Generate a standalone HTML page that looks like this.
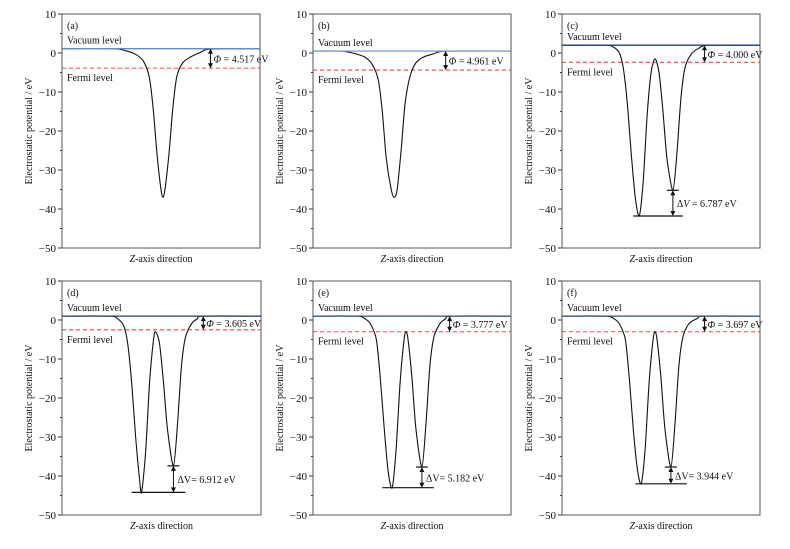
<!DOCTYPE html>
<html><head><meta charset="utf-8"><style>
body{margin:0;background:#fff}
svg{display:block;font-family:"Liberation Serif",serif}
</style></head><body>
<svg id="chart" width="790" height="549" viewBox="0 0 790 549"></svg>
<script>
// ---- data (value arrays per panel) ----
const panelLabels = ["(a)","(b)","(c)","(d)","(e)","(f)"];
const yTicks = [10,0,-10,-20,-30,-40,-50];
const vacuumLevels = [1.1,0.5,2.0,1.0,1.0,1.0];
const fermiLevels = [-3.9,-4.4,-2.4,-2.5,-3.0,-3.0];
const phiTexts = ["4.517","4.961","4.000","3.605","3.777","3.697"];
const phiPos = [0.75,0.67,0.72,0.71,0.69,0.72];
const dvTexts = [null,null,"6.787","6.912","5.182","3.944"];
const dvLow = [null,null,-41.8,-44.2,-43.0,-42.0];
const dvHigh = [null,null,-35.2,-37.4,-37.7,-37.7];
const dvArrowPos = [null,null,0.56,0.56,0.55,0.55];
const dvLineStart = [null,null,0.36,0.35,0.35,0.37];
const dvLineEnd = [null,null,0.61,0.62,0.61,0.63];
// curve samples: z fraction and potential (eV)
const zA = [0,0.26,0.32,0.37,0.41,0.44,0.46,0.48,0.50,0.51,0.52,0.54,0.56,0.58,0.61,0.65,0.70,0.75,1];
const vA = [1.1,1.1,0.6,-0.3,-2,-6,-14,-26,-35,-37,-35,-26,-14,-6,-2.5,-1,0.2,1.0,1.1];
const zB = [0,0.14,0.20,0.26,0.30,0.33,0.35,0.37,0.395,0.41,0.425,0.445,0.465,0.49,0.52,0.56,0.61,0.67,1];
const vB = [0.5,0.5,0,-1,-3,-7,-15,-27,-35,-37,-35,-25,-13,-6,-2.5,-1,-0.2,0.5,0.5];
const zC = [0,0.22,0.26,0.29,0.31,0.33,0.35,0.37,0.39,0.41,0.43,0.45,0.47,0.49,0.51,0.53,0.56,0.58,0.60,0.62,0.65,0.69,0.74,1];
const vC = [2,2,1.5,0,-4,-13,-26,-37,-41.8,-33,-16,-5,-1.5,-5,-15,-27,-35.2,-26,-12,-4,-0.5,1.2,2,2];
const zD = [0,0.24,0.28,0.31,0.33,0.35,0.37,0.39,0.40,0.42,0.44,0.46,0.47,0.49,0.51,0.53,0.56,0.58,0.60,0.62,0.65,0.68,0.71,1];
const vD = [1,1,0.3,-1.5,-6,-16,-30,-41,-44.2,-34,-16,-5,-3,-6,-16,-28,-37.4,-27,-12,-4.5,-1,0.3,1,1];
const zE = [0,0.22,0.26,0.29,0.32,0.34,0.36,0.38,0.40,0.42,0.44,0.46,0.47,0.48,0.50,0.52,0.55,0.57,0.59,0.61,0.64,0.67,0.70,1];
const vE = [1,1,0.4,-1,-5,-15,-28,-39,-43,-33,-16,-5,-3,-5,-15,-28,-37.7,-27,-12,-4.5,-1,0.3,1,1];
const zF = [0,0.22,0.26,0.29,0.32,0.34,0.36,0.38,0.40,0.42,0.44,0.46,0.47,0.48,0.50,0.52,0.55,0.57,0.59,0.61,0.64,0.68,0.72,1];
const vF = [1,1,0.4,-1,-5,-15,-28,-38,-42,-33,-16,-5,-3,-5,-15,-28,-37.7,-27,-12,-4.5,-1,0.3,1,1];
const curvesZ = [zA,zB,zC,zD,zE,zF];
const curvesV = [vA,vB,vC,vD,vE,vF];

const NS="http://www.w3.org/2000/svg";
const svg=document.getElementById('chart');
const boxes=[[62,14,260,248],[313,14,511,248],[562,14,760,248],[62,281,261,515],[313,281,511,515],[562,281,760,515]];
const vacColors=["#5a8fd0","#7aa6dc","#1f3f7a","#1f3f7a","#2a4f8a","#2a4f8a"];
function mk(tag,attrs,parent){const e=document.createElementNS(NS,tag);for(const k in attrs)e.setAttribute(k,attrs[k]);(parent||svg).appendChild(e);return e;}
function txt(x,y,s,size,parent,anchor,extra){const t=mk('text',Object.assign({x:x,y:y,'font-size':size,fill:'#111','text-anchor':anchor||'start'},extra||{}),parent);t.innerHTML=s;return t;}

for(let p=0;p<6;p++){
  const [L,T,R,B]=boxes[p];
  const g=mk('g',{});
  
  
  const yS=v=>T+(10-v)*(B-T)/60;
  const xS=f=>L+f*(R-L);
  for(const t of yTicks){
    mk('line',{x1:L-4,x2:L,y1:yS(t),y2:yS(t),stroke:'#333','stroke-width':1},g);
    const lab=txt(L-6,yS(t)+4,t<0?'\u2212'+(-t):String(t),11,g,'end');
    
    
  }
  for(let t=5;t>-50;t-=10) mk('line',{x1:L-2,x2:L,y1:yS(t),y2:yS(t),stroke:'#333','stroke-width':1},g);
  const fl=mk('line',{x1:L,x2:R,y1:yS(fermiLevels[p]),y2:yS(fermiLevels[p]),stroke:'#f05a5a','stroke-width':1.2,'stroke-dasharray':'4,3'},g);
  
  
  const zs=curvesZ[p],vs=curvesV[p];
  const pts=zs.map((z,i)=>[xS(z),yS(vs[i])]);
  let d='M'+pts[0][0]+','+pts[0][1];
  for(let i=0;i<pts.length-1;i++){
    const p0=pts[Math.max(i-1,0)],p1=pts[i],p2=pts[i+1],p3=pts[Math.min(i+2,pts.length-1)];
    const k=1/6*0.8;
    d+=' C'+(p1[0]+(p2[0]-p0[0])*k)+','+(p1[1]+(p2[1]-p0[1])*k)+' '+(p2[0]-(p3[0]-p1[0])*k)+','+(p2[1]-(p3[1]-p1[1])*k)+' '+p2[0]+','+p2[1];
  }
  const cv=mk('path',{d:d,fill:'none',stroke:'#111','stroke-width':1.1},g);
  
  
  const vl=mk('line',{x1:L,x2:R,y1:yS(vacuumLevels[p]),y2:yS(vacuumLevels[p]),stroke:vacColors[p],'stroke-width':1.3},g);
  
  
  mk('rect',{x:L,y:T,width:R-L,height:B-T,fill:'none',stroke:'#555','stroke-width':1},g);
  let t=txt(L+5,T+15,panelLabels[p],10,g);
  
  
  t=txt(L+5,yS(vacuumLevels[p])-5,'Vacuum level',10,g);
  
  
  t=txt(L+5,yS(fermiLevels[p])+13,'Fermi level',10,g);
  
  
  const ax=xS(phiPos[p]),y1=yS(vacuumLevels[p]),y2=yS(fermiLevels[p]);
  mk('line',{x1:ax,x2:ax,y1:y1+3,y2:y2-3,stroke:'#111','stroke-width':1},g);
  mk('path',{d:`M${ax-2.5},${y1+5}L${ax},${y1}L${ax+2.5},${y1+5}Z M${ax-2.5},${y2-5}L${ax},${y2}L${ax+2.5},${y2-5}Z`,fill:'#111'},g);
  t=txt(ax+3,(y1+y2)/2+4,'<tspan font-style="italic">Φ</tspan> = '+phiTexts[p]+' eV',10,g);
  
  
  if(dvTexts[p]){
    const bx=xS(dvArrowPos[p]),yl=yS(dvLow[p]),yh=yS(dvHigh[p]);
    mk('line',{x1:xS(dvLineStart[p]),x2:xS(dvLineEnd[p]),y1:yl,y2:yl,stroke:'#111','stroke-width':1.2},g);
    mk('line',{x1:bx-6,x2:bx+6,y1:yh,y2:yh,stroke:'#111','stroke-width':1.2},g);
    mk('line',{x1:bx,x2:bx,y1:yh+3,y2:yl-3,stroke:'#111','stroke-width':1},g);
    mk('path',{d:`M${bx-2.5},${yh+5}L${bx},${yh}L${bx+2.5},${yh+5}Z M${bx-2.5},${yl-5}L${bx},${yl}L${bx+2.5},${yl-5}Z`,fill:'#111'},g);
    t=txt(bx+4,(yh+yl)/2+4,(p===2?'Δ<tspan font-style="italic">V</tspan> = ':'ΔV= ')+dvTexts[p]+' eV',10,g);
    
    
  }
  t=txt((L+R)/2,B+14,'<tspan font-style="italic">Z</tspan>-axis direction',10,g,'middle');
  
  
  const yx=L-30,yy=(T+B)/2;
  t=txt(yx,yy,'Electrostatic potential / eV',10,g,'middle',{transform:`rotate(-90 ${yx} ${yy})`});
  
  
}
</script>
</body></html>
